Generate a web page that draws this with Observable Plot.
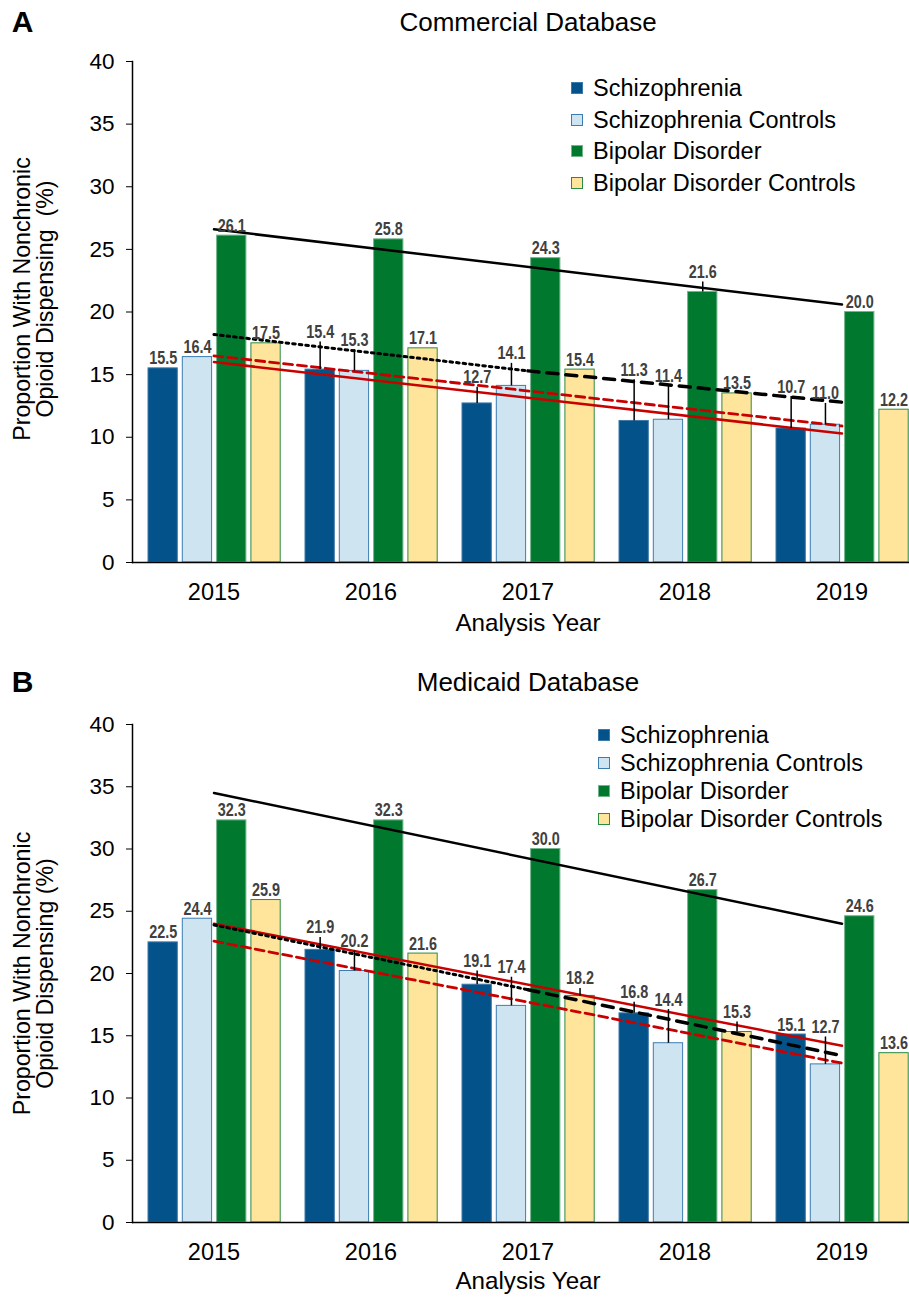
<!DOCTYPE html>
<html><head><meta charset="utf-8">
<script src="https://cdn.jsdelivr.net/npm/d3@7"></script>
<script src="https://cdn.jsdelivr.net/npm/@observablehq/plot@0.6"></script>
<style>
html,body{margin:0;padding:0;background:#fff;overflow:hidden;}
#wrap{position:relative;width:909px;height:1297px;overflow:hidden;font-family:"Liberation Sans",Arial,sans-serif;}
.panel{position:absolute;left:0;}
.legend{position:absolute;font-size:23.5px;color:#000;}
.legend .row{position:absolute;left:0;height:28px;line-height:28px;display:flex;align-items:center;white-space:nowrap;}
.legend .sw{width:12px;height:12px;box-sizing:border-box;border:1px solid;margin-right:10px;flex:none;}
</style></head><body><div id="wrap"></div>
<script>
// ---- Data ----
const years = ["2015", "2016", "2017", "2018", "2019"];
const seriesNames = ["Schizophrenia", "Schizophrenia Controls", "Bipolar Disorder", "Bipolar Disorder Controls"];
const yTicks = [0, 5, 10, 15, 20, 25, 30, 35, 40];

// A: Commercial database
const comSchiz = [15.5, 15.4, 12.7, 11.3, 10.7];
const comSchizCtrl = [16.4, 15.3, 14.1, 11.4, 11.0];
const comBipolar = [26.1, 25.8, 24.3, 21.6, 20.0];
const comBipolarCtrl = [17.5, 17.1, 15.4, 13.5, 12.2];
// label heights (value units) where a label was lifted with a leader line
const comSchizLabel = [null, 17.6, 14.0, 14.6, 13.25];
const comSchizCtrlLabel = [null, 17.0, 15.9, 14.1, 12.7];
const comBipolarLabel = [null, null, null, 22.4, null];
const comBipolarCtrlLabel = [null, null, null, null, null];
// trend lines (2015 -> 2019; split trend: 2015, 2017, 2019)
const comBipolarTrend = [26.6, 20.6];
const comSchizTrend = [16.0, 10.3];
const comSchizCtrlTrend = [16.5, 10.9];
const comBipolarCtrlTrend = [18.2, 15.3, 12.8];

// B: Medicaid database
const medSchiz = [22.5, 21.9, 19.1, 16.8, 15.1];
const medSchizCtrl = [24.4, 20.2, 17.4, 14.4, 12.7];
const medBipolar = [32.3, 32.3, 30.0, 26.7, 24.6];
const medBipolarCtrl = [25.9, 21.6, 18.2, 15.3, 13.6];
const medSchizLabel = [null, 22.9, 20.2, 17.7, null];
const medSchizCtrlLabel = [null, 21.8, 19.7, 17.1, 14.9];
const medBipolarLabel = [null, null, null, null, null];
const medBipolarCtrlLabel = [null, null, 18.8, 16.1, null];
const medBipolarTrend = [34.5, 24.0];
const medSchizTrend = [24.0, 14.2];
const medSchizCtrlTrend = [22.6, 12.8];
const medBipolarCtrlTrend = [23.9, 18.7, 13.4];

// ---- Styles ----
const fills = ["#03538a", "#cfe4f1", "#00792f", "#fee59b"];
const strokes = ["#3d79a9", "#3b7db3", "#74b48d", "#2a8b45"];
const labelColor = "#404040";
const redColor = "#c80000";

const wrap = document.getElementById("wrap");

function makePanel(cfg) {
  const {vals, labels, trends, title, letter, yLabel, top, height, marginTop, marginBottom, yLabelDy, tickPad, titleDy, axisTitleDy} = cfg;
  const rows = [];
  vals.forEach((arr, i) => arr.forEach((v, j) => rows.push({year: years[j], s: i, value: v, lp: labels[i][j]})));
  const bw = 137.2, slot = 34.3, barW = 29.5;
  const inL = i => 3 + i * slot;
  const inR = i => bw - inL(i) - barW;
  const cx = i => inL(i) + barW / 2 - bw / 2;

  const marks = [];
  for (let i = 0; i < 4; i++) {
    marks.push(Plot.barY(rows.filter(r => r.s === i), {
      x: "year", y: "value", fill: fills[i], stroke: strokes[i], strokeWidth: 1,
      insetLeft: inL(i), insetRight: inR(i)
    }));
  }
  marks.push(Plot.ruleY([0], {stroke: "#000", strokeWidth: 1.5}));
  marks.push(Plot.frame({anchor: "left", stroke: "#000", strokeWidth: 1.5}));

  const full = ["2015", "2019"];
  const split1 = ["2015", "2017"], split2 = ["2017", "2019"];
  const ln = (xs, ys) => xs.map((x, k) => ({year: x, v: ys[k]}));
  marks.push(Plot.line(ln(full, trends.bipolar), {x: "year", y: "v", stroke: "#000", strokeWidth: 2.5}));
  marks.push(Plot.line(ln(full, trends.schiz), {x: "year", y: "v", stroke: redColor, strokeWidth: 2.5}));
  marks.push(Plot.line(ln(full, trends.schizCtrl), {x: "year", y: "v", stroke: redColor, strokeWidth: 2.8, strokeDasharray: "9,5"}));
  marks.push(Plot.line(ln(split1, trends.bipolarCtrl.slice(0, 2)), {x: "year", y: "v", stroke: "#000", strokeWidth: 3, strokeDasharray: "2.6,4"}));
  marks.push(Plot.line(ln(split2, trends.bipolarCtrl.slice(1, 3)), {x: "year", y: "v", stroke: "#000", strokeWidth: 3.5, strokeDasharray: "11,8"}));

  for (let i = 0; i < 4; i++) {
    marks.push(Plot.ruleX(rows.filter(r => r.s === i && r.lp != null), {
      x: "year", y1: "value", y2: "lp", dx: cx(i), stroke: "#000", strokeWidth: 1.5
    }));
  }
  for (let i = 0; i < 4; i++) {
    marks.push(Plot.text(rows.filter(r => r.s === i), {
      x: "year", y: r => r.lp != null ? r.lp : r.value, text: r => r.value.toFixed(1),
      dx: cx(i), dy: -4, lineAnchor: "bottom", textAnchor: "middle",
      fontFamily: "'Liberation Sans',Arial,sans-serif",
      fontWeight: "bold", fontSize: 18, fill: labelColor
    }));
  }
  marks.push(Plot.axisY({ticks: yTicks, tickSize: 6, tickPadding: tickPad, label: null, fontSize: 22.5, stroke: "#000"}));
  marks.push(Plot.axisX({tickSize: 0, tickPadding: 21, label: null, fontSize: 23.5}));
  marks.push(Plot.text([yLabel], {frameAnchor: "left", dx: 33.5 - 132, dy: yLabelDy, rotate: -90,
    textAnchor: "middle", lineAnchor: "middle", fontSize: 23.2, lineHeight: 1.0, fill: "#000"}));
  marks.push(Plot.text(["Analysis Year"], {x: () => years[2], frameAnchor: "bottom", dy: axisTitleDy,
    lineAnchor: "middle", fontSize: 24.2, fill: "#000"}));
  marks.push(Plot.text([title], {x: () => years[2], frameAnchor: "top", dy: titleDy,
    lineAnchor: "middle", fontSize: 26, fill: "#000"}));
  marks.push(Plot.text([letter], {frameAnchor: "top-left", dx: 22 - 132, dy: titleDy,
    textAnchor: "middle", lineAnchor: "middle", fontSize: 30, fontWeight: "bold", fill: "#000"}));

  const svg = Plot.plot({
    width: 909, height, marginTop, marginBottom, marginLeft: 132, marginRight: 0,
    style: {fontFamily: "'Liberation Sans',Arial,sans-serif", fontSize: "22px", color: "#000", background: "#fff", overflow: "visible"},
    x: {type: "band", domain: years, range: [132, 924], paddingInner: 0.127, paddingOuter: 0.083},
    y: {domain: [0, 40]},
    marks
  });
  const div = document.createElement("div");
  div.className = "panel";
  div.style.top = top + "px";
  div.appendChild(svg);
  wrap.appendChild(div);
  // condense the bold value labels (Arial Narrow look)
  svg.querySelectorAll('g[fill="' + labelColor + '"] text').forEach(t => {
    const len = t.getComputedTextLength();
    t.setAttribute("textLength", (len * 0.8).toFixed(2));
    t.setAttribute("lengthAdjust", "spacingAndGlyphs");
  });
}

function makeLegend(left, firstY, step) {
  const lg = document.createElement("div");
  lg.className = "legend";
  lg.style.left = left + "px";
  lg.style.top = "0px";
  seriesNames.forEach((name, i) => {
    const row = document.createElement("div");
    row.className = "row";
    row.style.top = (firstY + i * step - 14) + "px";
    const sw = document.createElement("span");
    sw.className = "sw";
    sw.style.background = fills[i];
    sw.style.borderColor = strokes[i];
    row.appendChild(sw);
    row.appendChild(document.createTextNode(name));
    lg.appendChild(row);
  });
  wrap.appendChild(lg);
}

makePanel({
  vals: [comSchiz, comSchizCtrl, comBipolar, comBipolarCtrl],
  labels: [comSchizLabel, comSchizCtrlLabel, comBipolarLabel, comBipolarCtrlLabel],
  trends: {bipolar: comBipolarTrend, schiz: comSchizTrend, schizCtrl: comSchizCtrlTrend, bipolarCtrl: comBipolarCtrlTrend},
  title: "Commercial Database", letter: "A",
  yLabel: "Proportion With Nonchronic\nOpioid Dispensing\u00a0 (%)",
  top: 0, height: 655, marginTop: 61, marginBottom: 93, yLabelDy: -13, tickPad: 12, titleDy: -39, axisTitleDy: 61
});
makePanel({
  vals: [medSchiz, medSchizCtrl, medBipolar, medBipolarCtrl],
  labels: [medSchizLabel, medSchizCtrlLabel, medBipolarLabel, medBipolarCtrlLabel],
  trends: {bipolar: medBipolarTrend, schiz: medSchizTrend, schizCtrl: medSchizCtrlTrend, bipolarCtrl: medBipolarCtrlTrend},
  title: "Medicaid Database", letter: "B",
  yLabel: "Proportion With Nonchronic\nOpioid Dispensing (%)",
  top: 655, height: 642, marginTop: 69, marginBottom: 75, yLabelDy: 0, tickPad: 12, titleDy: -42, axisTitleDy: 59
});
makeLegend(571, 88, 31.7);
makeLegend(598, 735, 28);
</script></body></html>
